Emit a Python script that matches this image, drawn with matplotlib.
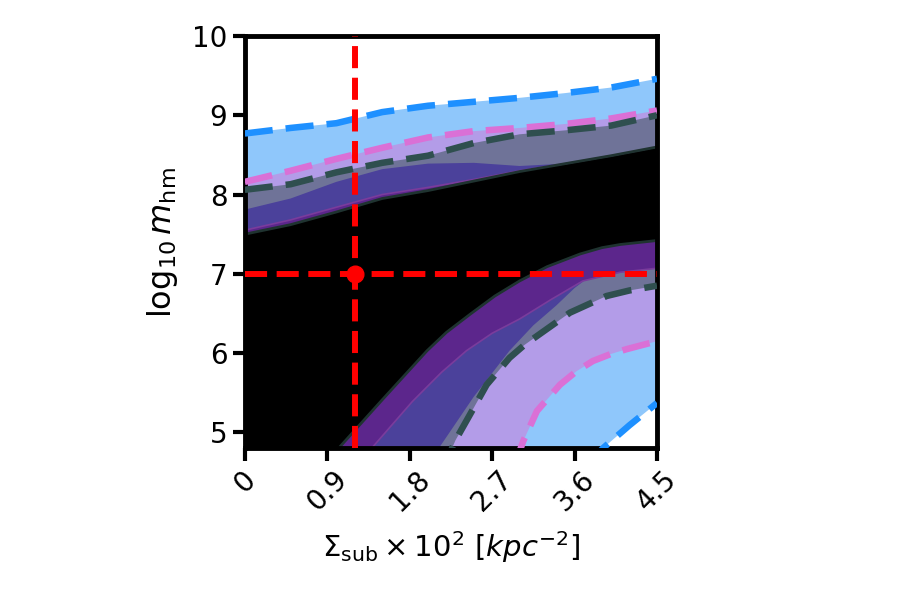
import matplotlib
matplotlib.use("Agg")
import matplotlib.pyplot as plt

# upper branch of every band, on a common grid
x_top = [0.0, 0.5, 1.0, 1.5, 2.0, 2.5, 3.0, 3.5, 4.0, 4.5]
blue_top = [8.77, 8.84, 8.90, 9.04, 9.12, 9.17, 9.22, 9.28, 9.35, 9.46]
pink_top = [8.16, 8.30, 8.45, 8.59, 8.72, 8.80, 8.84, 8.89, 8.96, 9.06]
slate_top = [8.06, 8.13, 8.28, 8.40, 8.49, 8.65, 8.76, 8.81, 8.87, 9.00]
sblue_top = [7.81, 7.95, 8.16, 8.32, 8.39, 8.40, 8.36, 8.39, 8.49, 8.60]
purple_top = [7.55, 7.68, 7.84, 8.00, 8.09, 8.19, 8.30, 8.39, 8.49, 8.60]
black_top = [7.50, 7.62, 7.78, 7.95, 8.05, 8.17, 8.29, 8.39, 8.49, 8.60]

# lower branches (each starts just below the axis floor)
blue_low_x = [3.75, 3.91, 4.2, 4.5]
blue_low_y = [4.6, 4.8, 5.09, 5.37]
pink_low_x = [2.95, 3.04, 3.19, 3.44, 3.62, 3.80, 4.0, 4.17, 4.5]
pink_low_y = [4.6, 4.89, 5.27, 5.60, 5.77, 5.90, 5.99, 6.05, 6.15]
slate_low_x = [2.15, 2.30, 2.50, 2.64, 2.89, 3.05, 3.22, 3.55, 3.95, 4.2, 4.5]
slate_low_y = [4.5, 4.9, 5.31, 5.60, 5.94, 6.10, 6.24, 6.51, 6.72, 6.79, 6.85]
sblue_low_x = [2.0, 2.13, 2.5, 2.89, 3.15, 3.4, 3.6, 3.77, 4.1, 4.5]
sblue_low_y = [4.6, 4.82, 5.45, 6.03, 6.35, 6.6, 6.82, 6.97, 7.08, 7.06]
purple_low_x = [1.25, 1.40, 1.83, 2.15, 2.42, 2.7, 3.0, 3.35, 3.69, 4.1, 4.5]
purple_low_y = [4.6, 4.82, 5.39, 5.76, 6.03, 6.25, 6.43, 6.68, 6.91, 7.02, 7.07]
black_low_x = [0.9, 1.04, 1.5, 1.99, 2.2, 2.46, 2.73, 3.0, 3.3, 3.66, 3.9, 4.1, 4.5]
black_low_y = [4.6, 4.82, 5.41, 6.03, 6.26, 6.49, 6.72, 6.91, 7.09, 7.25, 7.33, 7.37, 7.42]

true_x, true_y = 1.2, 7.0
xticks = [0, 0.9, 1.8, 2.7, 3.6, 4.5]
xtick_labels = ["0", "0.9", "1.8", "2.7", "3.6", "4.5"]
yticks = [5, 6, 7, 8, 9, 10]

FLOOR = 4.4


def band(ax, up, lx, ly, color, edge=None, lw=0):
    xs = list(x_top) + lx[::-1] + [0.0]
    ys = list(up) + ly[::-1] + [FLOOR]
    ax.fill(xs, ys, color=color, lw=0, zorder=1)
    if edge is not None:
        ax.plot(x_top, up, color=edge, lw=lw, zorder=2)
        ax.plot(lx, ly, color=edge, lw=lw, zorder=2)


fig = plt.figure(figsize=(9, 6), dpi=100)
ax = fig.add_axes([0.272, 0.253, 0.458, 0.687])

band(ax, blue_top, blue_low_x, blue_low_y, "#8fc7fb")
band(ax, pink_top, pink_low_x, pink_low_y, "#b39ce8")
band(ax, slate_top, slate_low_x, slate_low_y, "#6f7398")
band(ax, sblue_top, sblue_low_x, sblue_low_y, "#4b419b")
band(ax, purple_top, purple_low_x, purple_low_y, "#5c268c", edge="#7a3c9c", lw=1.2)
band(ax, black_top, black_low_x, black_low_y, "black", edge="#1f3330", lw=2.0)

for up, lx, ly, c in [(blue_top, blue_low_x, blue_low_y, "#1e90ff"),
                      (pink_top, pink_low_x, pink_low_y, "orchid"),
                      (slate_top, slate_low_x, slate_low_y, "darkslategray")]:
    ax.plot(x_top, up, color=c, lw=4.7, dashes=(4.3, 2.0), zorder=3)
    ax.plot(lx, ly, color=c, lw=4.7, dashes=(4.3, 2.0), zorder=3)

ax.axvline(true_x, color="red", lw=4.3, ls="--", zorder=4)
ax.axhline(true_y, color="red", lw=4.3, ls="--", zorder=4)
ax.plot([true_x], [true_y], "o", color="red", ms=12, zorder=5)

ax.set_xlim(0, 4.5)
ax.set_ylim(4.8, 10)
ax.set_xticks(xticks)
ax.set_xticklabels(xtick_labels, rotation=45)
ax.set_yticks(yticks)
ax.tick_params(labelsize=20, length=9, width=3)
for s in ax.spines.values():
    s.set_linewidth(3.5)
ax.set_xlabel(r"$\Sigma_{\rm sub}\times 10^2\ [kpc^{-2}]$", fontsize=21, labelpad=9)
ax.set_ylabel(r"$\log_{10}m_{\rm hm}$", fontsize=23, labelpad=9)

fig.savefig("out.png", dpi=100)
